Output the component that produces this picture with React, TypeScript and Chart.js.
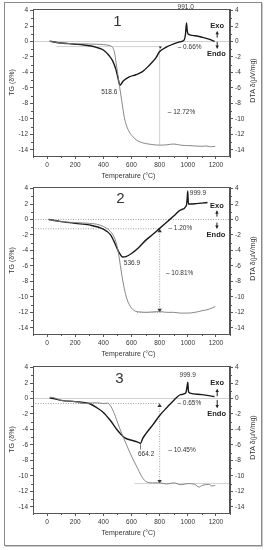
import React, { useEffect, useRef } from 'react';
import { Chart, registerables } from 'chart.js';

Chart.register(...registerables);

// ---------- axis ticks & titles ----------
const TEMP_TICKS = [0, 200, 400, 600, 800, 1000, 1200];
const SIGNAL_TICKS = [4, 2, 0, -2, -4, -6, -8, -10, -12, -14];
const X_TITLE = 'Temperature (°C)';
const Y_LEFT_TITLE = 'TG (δ%)';
const Y_RIGHT_TITLE = 'DTA δ(μV/mg)';

// ---------- panel 1 ----------
const TG1_T = [19, 60, 100, 150, 200, 250, 300, 350, 400, 440, 460, 470, 480, 490, 500, 510, 520, 530, 540, 550, 565, 585, 610, 640, 680, 720, 760, 800, 850, 900, 950, 1000, 1050, 1100, 1130, 1160, 1195];
const TG1_V = [0.05, -0.1, -0.2, -0.25, -0.3, -0.3, -0.33, -0.35, -0.4, -0.5, -0.65, -0.9, -1.5, -2.7, -3.9, -5.2, -6.4, -7.6, -8.8, -9.9, -10.9, -11.7, -12.3, -12.8, -13.1, -13.25, -13.35, -13.4, -13.35, -13.25, -13.4, -13.45, -13.5, -13.55, -13.5, -13.6, -13.55];
const DTA1_T = [19, 60, 100, 150, 200, 250, 300, 350, 400, 442, 466, 489, 503, 518.6, 541, 584, 631, 678, 725, 772, 800, 850, 900, 943, 975, 984, 991, 996, 1003, 1050, 1100, 1150, 1190];
const DTA1_V = [0.05, -0.1, -0.2, -0.28, -0.35, -0.42, -0.55, -0.75, -1.1, -1.85, -2.5, -3.6, -4.65, -5.65, -5.1, -4.57, -4.3, -3.9, -3.1, -2.15, -1.3, -0.7, -0.3, -0.05, 0.22, 1.0, 2.4, 1.4, 0.95, 0.75, 0.55, 0.3, 0.0];

// ---------- panel 2 ----------
const TG2_T = [12, 100, 200, 300, 350, 400, 450, 480, 500, 514, 528, 544, 563, 592, 627, 660, 700, 750, 800, 850, 900, 950, 1000, 1050, 1100, 1150, 1195];
const TG2_V = [0, -0.27, -0.4, -0.5, -0.6, -0.9, -1.55, -2.4, -3.65, -5.1, -6.8, -8.5, -10.0, -11.25, -11.85, -11.95, -12.0, -11.95, -11.9, -12.0, -12.0, -12.1, -12.1, -12.0, -11.8, -11.6, -11.25];
const DTA2_T = [12, 100, 200, 300, 400, 450, 480, 500, 520, 536.9, 560, 600, 650, 700, 750, 800, 850, 900, 950, 990, 996, 1000, 1004, 1020, 1060, 1100, 1140];
const DTA2_V = [0, -0.27, -0.5, -0.7, -1.25, -1.95, -3.0, -3.85, -4.5, -4.85, -4.8, -4.4, -3.65, -2.7, -1.95, -1.15, -0.35, 0.45, 1.25, 1.8, 2.8, 3.7, 2.0, 2.0, 2.05, 2.12, 2.2];

// ---------- panel 3 ----------
const TG3_T = [19, 50, 100, 200, 250, 300, 350, 400, 430, 450, 470, 500, 530, 560, 600, 640, 670, 700, 750, 800, 850, 900, 950, 1000, 1050, 1080, 1100, 1150, 1170, 1195];
const TG3_V = [0.17, 0.1, -0.25, -0.4, -0.65, -0.6, -0.55, -0.65, -0.6, -0.95, -1.6, -3.05, -4.5, -5.8, -7.45, -8.9, -10.0, -10.7, -10.9, -10.9, -11.05, -10.9, -11.15, -11.0, -11.1, -11.45, -11.25, -11.1, -11.3, -11.25];
const DTA3_T = [19, 100, 200, 300, 350, 400, 450, 500, 550, 600, 640, 664.2, 680, 700, 750, 800, 850, 900, 950, 985, 995, 1000, 1005, 1015, 1100, 1190];
const DTA3_V = [0.1, -0.25, -0.4, -0.65, -1.15, -1.8, -2.85, -4.1, -5.05, -5.4, -5.6, -5.8, -5.15, -4.6, -3.45, -2.2, -1.2, -0.25, 0.5, 0.7, 1.55, 2.1, 0.9, 0.7, 0.5, 0.25];

const FONT = "'Liberation Sans', Arial, sans-serif";
const AXIS_COLOR = '#555555';
const LABEL_COLOR = '#333333';

type Txt = { t: string; x: number; y: number; size?: number; bold?: boolean };
type Seg = { x1: number; y1: number; x2: number; y2: number; style: 'light' | 'dotted' | 'dark'; arrows?: 'both' | 'none' };
type Arrow = { x: number; from: number; to: number };

interface Panel {
  top: number;
  tgT: number[]; tgV: number[]; dtaT: number[]; dtaV: number[];
  texts: Txt[]; segs: Seg[]; arrows: Arrow[]; heads?: { x: number; y: number }[];
}

const PANELS: Panel[] = [
  {
    top: 0, tgT: TG1_T, tgV: TG1_V, dtaT: DTA1_T, dtaV: DTA1_V,
    texts: [
      { t: '1', x: 500, y: 2.6, size: 15 },
      { t: '991.0', x: 985, y: 4.4 },
      { t: '518.6', x: 442, y: -6.55 },
      { t: '– 0.66%', x: 1013, y: -0.72 },
      { t: '– 12.72%', x: 955, y: -9.2 },
      { t: 'Exo', x: 1209, y: 2.0, size: 7.5, bold: true },
      { t: 'Endo', x: 1203, y: -1.65, size: 7.5, bold: true },
    ],
    segs: [
      { x1: -100, y1: 0, x2: 1300, y2: 0, style: 'light' },
      { x1: 66, y1: -0.66, x2: 800, y2: -0.66, style: 'light' },
      { x1: 800, y1: -0.66, x2: 800, y2: -13.4, style: 'light' },
    ],
    arrows: [{ x: 1209, from: 0.5, to: 1.3 }, { x: 1209, from: -0.05, to: -0.9 }],
    heads: [{ x: 805, y: -0.95 }],
  },
  {
    top: 178, tgT: TG2_T, tgV: TG2_V, dtaT: DTA2_T, dtaV: DTA2_V,
    texts: [
      { t: '2', x: 521, y: 2.7, size: 15 },
      { t: '999.9', x: 1072, y: 3.45 },
      { t: '536.9', x: 603, y: -5.63 },
      { t: '– 1.20%', x: 947, y: -1.12 },
      { t: '– 10.81%', x: 942, y: -7.0 },
      { t: 'Exo', x: 1207, y: 1.72, size: 7.5, bold: true },
      { t: 'Endo', x: 1200, y: -1.95, size: 7.5, bold: true },
    ],
    segs: [
      { x1: -100, y1: 0, x2: 1300, y2: 0, style: 'dotted' },
      { x1: -100, y1: -1.2, x2: 800, y2: -1.2, style: 'dotted' },
      { x1: 800, y1: -1.2, x2: 800, y2: -12, style: 'dotted', arrows: 'both' },
      { x1: 640, y1: -12, x2: 810, y2: -12, style: 'dotted' },
    ],
    arrows: [{ x: 1207, from: 0.37, to: 1.13 }, { x: 1207, from: -0.4, to: -1.15 }],
  },
  {
    top: 357, tgT: TG3_T, tgV: TG3_V, dtaT: DTA3_T, dtaV: DTA3_V,
    texts: [
      { t: '3', x: 515, y: 2.5, size: 15 },
      { t: '999.9', x: 999, y: 2.97 },
      { t: '664.2', x: 704, y: -7.2 },
      { t: '– 0.65%', x: 1011, y: -0.67 },
      { t: '– 10.45%', x: 959, y: -6.7 },
      { t: 'Exo', x: 1209, y: 2.0, size: 7.5, bold: true },
      { t: 'Endo', x: 1205, y: -2.0, size: 7.5, bold: true },
    ],
    segs: [
      { x1: -100, y1: 0, x2: 1300, y2: 0, style: 'light' },
      { x1: -100, y1: -0.65, x2: 800, y2: -0.65, style: 'dotted' },
      { x1: 800, y1: -0.65, x2: 800, y2: -11, style: 'dotted', arrows: 'both' },
      { x1: 620, y1: -11, x2: 1300, y2: -11, style: 'light' },
      { x1: 664, y1: -5.9, x2: 664, y2: -6.6, style: 'dark' },
    ],
    arrows: [{ x: 1209, from: 0.3, to: 1.2 }, { x: 1209, from: -0.2, to: -1.2 }],
  },
];

function head(ctx: CanvasRenderingContext2D, x: number, y: number, dir: number, size = 2.2) {
  // dir: -1 up, +1 down
  ctx.beginPath();
  ctx.moveTo(x, y);
  ctx.lineTo(x - size, y - dir * size * 1.6);
  ctx.lineTo(x + size, y - dir * size * 1.6);
  ctx.closePath();
  ctx.fill();
}

function makePlugin(p: Panel) {
  return {
    id: 'panelDecor',
    beforeDatasetsDraw(chart: any) {
      const { ctx } = chart;
      const xs = chart.scales.x, ys = chart.scales.y;
      ctx.save();
      for (const s of p.segs) {
        const x1 = xs.getPixelForValue(s.x1), x2 = xs.getPixelForValue(s.x2);
        const y1 = ys.getPixelForValue(s.y1), y2 = ys.getPixelForValue(s.y2);
        ctx.beginPath();
        if (s.style === 'dotted') { ctx.setLineDash([1, 1.5]); ctx.strokeStyle = '#888'; ctx.lineWidth = 0.8; }
        else if (s.style === 'light') { ctx.setLineDash([]); ctx.strokeStyle = '#c4c4c4'; ctx.lineWidth = 0.8; }
        else { ctx.setLineDash([]); ctx.strokeStyle = '#555'; ctx.lineWidth = 0.8; }
        ctx.moveTo(x1, y1); ctx.lineTo(x2, y2); ctx.stroke();
        if (s.arrows === 'both') {
          ctx.fillStyle = '#333';
          const top = Math.min(y1, y2), bot = Math.max(y1, y2);
          head(ctx, x1, top, -1);
          head(ctx, x1, bot, 1);
        }
      }
      ctx.restore();
    },
    afterDraw(chart: any) {
      const { ctx, chartArea } = chart;
      const xs = chart.scales.x, ys = chart.scales.y;
      const { left, right, top, bottom } = chartArea;
      ctx.save();
      // box
      ctx.strokeStyle = AXIS_COLOR; ctx.lineWidth = 1; ctx.setLineDash([]);
      ctx.strokeRect(Math.round(left) + 0.5, Math.round(top) + 0.5, Math.round(right - left) - 1, Math.round(bottom - top));
      // minor ticks
      ctx.beginPath();
      for (let v = -100; v <= 1300; v += 200) {
        const x = Math.round(xs.getPixelForValue(v)) + 0.5;
        ctx.moveTo(x, bottom); ctx.lineTo(x, bottom + 2);
      }
      for (let v = 3; v >= -13; v -= 2) {
        const y = Math.round(ys.getPixelForValue(v)) + 0.5;
        ctx.moveTo(left, y); ctx.lineTo(left - 2, y);
        ctx.moveTo(right, y); ctx.lineTo(right + 2, y);
      }
      ctx.stroke();
      // texts
      ctx.textAlign = 'center'; ctx.textBaseline = 'middle';
      for (const t of p.texts) {
        ctx.fillStyle = t.bold ? '#222' : '#333';
        ctx.font = `${t.bold ? 'bold ' : ''}${t.size ?? 6.5}px ${FONT}`;
        ctx.fillText(t.t, xs.getPixelForValue(t.x), ys.getPixelForValue(t.y));
      }
      // exo/endo arrows
      ctx.strokeStyle = '#222'; ctx.fillStyle = '#222'; ctx.lineWidth = 1;
      for (const a of p.arrows) {
        const x = xs.getPixelForValue(a.x);
        const y1 = ys.getPixelForValue(a.from), y2 = ys.getPixelForValue(a.to);
        ctx.beginPath(); ctx.moveTo(x, y1); ctx.lineTo(x, y2); ctx.stroke();
        head(ctx, x, y2, y2 < y1 ? -1 : 1, 1.8);
      }
      for (const h of p.heads ?? []) {
        head(ctx, xs.getPixelForValue(h.x), ys.getPixelForValue(h.y), 1, 1.5);
      }
      // axis titles
      ctx.fillStyle = LABEL_COLOR;
      ctx.font = `7px ${FONT}`;
      ctx.fillText(X_TITLE, (left + right) / 2 - 3, bottom + 20);
      const cy = (top + bottom) / 2;
      ctx.save(); ctx.translate(12.5, cy); ctx.rotate(-Math.PI / 2); ctx.fillText(Y_LEFT_TITLE, 0, 0); ctx.restore();
      ctx.save(); ctx.translate(253.5, cy - 2); ctx.rotate(-Math.PI / 2); ctx.fillText(Y_RIGHT_TITLE, 0, 0); ctx.restore();
      ctx.restore();
    },
  };
}

function yAxis(position: 'left' | 'right', width: number) {
  return {
    type: 'linear',
    position,
    min: -14.8,
    max: 4.2,
    afterBuildTicks: (s: any) => { s.ticks = SIGNAL_TICKS.map((v) => ({ value: v })); },
    afterFit: (s: any) => { s.width = width; },
    ticks: { callback: (v: any) => String(v), font: { family: FONT, size: 6.5 }, color: LABEL_COLOR, padding: 2, autoSkip: false },
    grid: { drawOnChartArea: false, tickLength: 3, color: AXIS_COLOR },
    border: { color: AXIS_COLOR, width: 1 },
  };
}

function PanelChart({ p }: { p: Panel }) {
  const ref = useRef<HTMLCanvasElement>(null);
  useEffect(() => {
    if (!ref.current) return;
    const chart = new Chart(ref.current, {
      type: 'line',
      data: {
        datasets: [
          {
            label: 'TG',
            data: p.tgT.map((t, i) => ({ x: t, y: p.tgV[i] })),
            borderColor: '#7a7a7a', borderWidth: 0.9, pointRadius: 0, cubicInterpolationMode: 'monotone',
          },
          {
            label: 'DTA',
            data: p.dtaT.map((t, i) => ({ x: t, y: p.dtaV[i] })),
            borderColor: '#1a1a1a', borderWidth: 1.4, pointRadius: 0, cubicInterpolationMode: 'monotone',
          },
        ],
      },
      options: {
        animation: false,
        responsive: false,
        events: [],
        layout: { padding: { top: 9, left: 0, right: 0, bottom: 0 } },
        plugins: { legend: { display: false }, tooltip: { enabled: false } },
        scales: {
          x: {
            type: 'linear', min: -100, max: 1300,
            afterBuildTicks: (s: any) => { s.ticks = TEMP_TICKS.map((v) => ({ value: v })); },
            afterFit: (s: any) => { s.height = 24; },
            ticks: { callback: (v: any) => String(v), font: { family: FONT, size: 6.5 }, color: LABEL_COLOR, padding: 2, maxRotation: 0, autoSkip: false },
            grid: { drawOnChartArea: false, tickLength: 3, color: AXIS_COLOR },
            border: { color: AXIS_COLOR, width: 1 },
          },
          y: yAxis('left', 33),
          y2: yAxis('right', 35),
        },
      } as any,
      plugins: [makePlugin(p)],
    } as any);
    return () => chart.destroy();
  }, [p]);
  return (
    <canvas
      ref={ref}
      width={265}
      height={180}
      style={{ position: 'absolute', left: 0, top: p.top, width: 265, height: 180 }}
    />
  );
}

export default function App() {
  return (
    <div style={{ position: 'absolute', left: 0, top: 0, width: 265, height: 550, background: '#fff', overflow: 'hidden' }}>
      <div style={{ position: 'absolute', left: 4, top: 2, width: 256, height: 542, border: '1px solid #8a8a8a', boxShadow: '1px 1px 0 #c8c8c8' }} />
      {PANELS.map((p, i) => <PanelChart key={i} p={p} />)}
    </div>
  );
}
